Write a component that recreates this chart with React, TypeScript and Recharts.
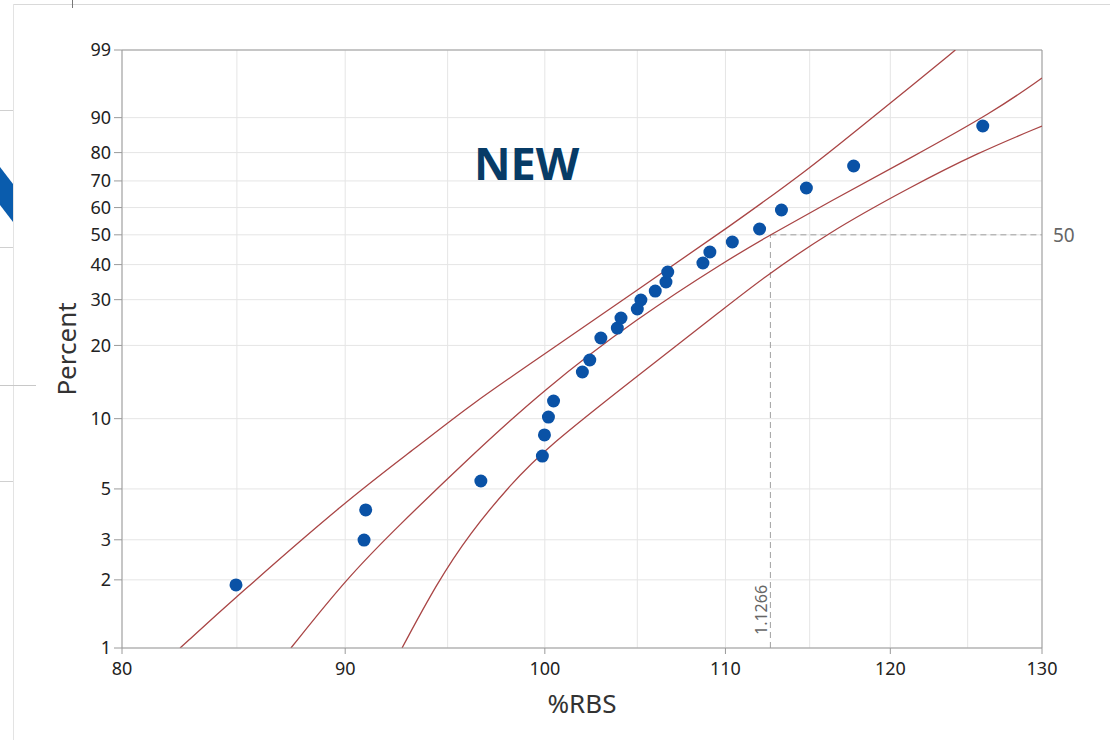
import React from "react";
import {
  ComposedChart,
  Scatter,
  Line,
  XAxis,
  YAxis,
  CartesianGrid,
  ReferenceLine,
  ReferenceDot,
} from "recharts";

// Weibull probability scale: ln(-ln(1 - p))
const weib = (p: number) => Math.log(-Math.log(1 - p / 100));

const percentTicks = [1, 2, 3, 5, 10, 20, 30, 40, 50, 60, 70, 80, 90, 99];
const rbsTicks = [80, 90, 100, 110, 120, 130];
const rbsMinorGrid = [85, 95, 105, 115, 125];

// observations
const rbsValues = [
  84.96, 90.9, 90.98, 96.68, 99.87, 99.98, 100.19, 100.46, 102.0, 102.4, 103.0,
  103.9, 104.1, 105.0, 105.2, 106.0, 106.6, 106.7, 108.7, 109.1, 110.4, 112.0,
  113.3, 114.8, 117.7, 126.0,
];
const percentValues = [
  1.9, 2.99, 4.05, 5.41, 6.93, 8.53, 10.16, 11.86, 15.63, 17.49, 21.4, 23.41,
  25.59, 27.68, 29.91, 32.27, 34.78, 37.72, 40.5, 44.08, 47.48, 52.08, 59.09,
  67.36, 75.41, 87.92,
];

// fitted line and confidence bounds
const upperRbs = [82.49, 84.96, 90.09, 93.48, 96.13, 99.91, 105.0, 110.11, 115.04, 118.12, 121.28, 124.19];
const upperPct = [1.0, 1.68, 4.48, 7.58, 11.41, 18.31, 32.55, 52.44, 74.7, 87.66, 95.72, 99.0];

const fitRbs = [87.46, 90.09, 92.5, 96.13, 99.91, 105.0, 110.11, 112.64, 116.08, 121.28, 126.71, 130];
const fitPct = [1.0, 2.04, 3.41, 6.87, 13.18, 25.59, 41.46, 50.0, 61.72, 78.19, 91.28, 96.84];

const lowerRbs = [92.74, 94.47, 96.13, 98.18, 100.12, 105.0, 110.11, 112.05, 116.08, 121.28, 125.64, 130];
const lowerPct = [1.0, 1.94, 3.21, 5.2, 7.58, 15.05, 28.41, 35.35, 50.64, 67.73, 79.86, 87.92];

const medianRbs = 112.64;
const medianLabel = "1.1266";

const toPoints = (xs: number[], ps: number[]) =>
  xs.map((x, i) => ({ x, y: weib(ps[i]) }));

const points = toPoints(rbsValues, percentValues);
const upper = toPoints(upperRbs, upperPct);
const fit = toPoints(fitRbs, fitPct);
const lower = toPoints(lowerRbs, lowerPct);

const yTicks = percentTicks.map(weib);
const fmtPct = (v: number) => {
  let best = percentTicks[0];
  let d = Infinity;
  percentTicks.forEach((p) => {
    const dd = Math.abs(weib(p) - v);
    if (dd < d) {
      d = dd;
      best = p;
    }
  });
  return String(best);
};

const FONT = "'Noto Sans', 'Open Sans', sans-serif";
const CURVE = "#a94545";
const GRID = "#e5e5e5";
const AXIS = "#9a9a9a";

const Dot = (props: any) => (
  <circle cx={props.cx} cy={props.cy} r={6.5} fill="#0a52a6" />
);

const YTitle = (props: any) => {
  const vb = props.viewBox || { x: 62, y: 50, width: 60, height: 598 };
  const x = vb.x + 14;
  const y = vb.y + vb.height / 2;
  return (
    <text
      x={x}
      y={y}
      transform={`rotate(-90 ${x} ${y})`}
      textAnchor="middle"
      fill="#333"
      fontSize={26}
      fontFamily={FONT}
    >
      Percent
    </text>
  );
};

const XTitle = (props: any) => {
  const vb = props.viewBox || { x: 122, y: 648, width: 920, height: 60 };
  return (
    <text
      x={vb.x + vb.width / 2}
      y={vb.y + 65}
      textAnchor="middle"
      fill="#333"
      fontSize={26}
      fontFamily={FONT}
    >
      %RBS
    </text>
  );
};

const MedianLabel = (props: any) => {
  const vb = props.viewBox || { x: 770, y: 648 };
  const x = vb.x - 3;
  const y = vb.y - 13;
  return (
    <text
      x={x}
      y={y}
      transform={`rotate(-90 ${x} ${y})`}
      textAnchor="start"
      fill="#666"
      fontSize={16}
      fontFamily={FONT}
    >
      {medianLabel}
    </text>
  );
};

export default function App() {
  return (
    <div
      style={{
        position: "absolute",
        left: 0,
        top: 0,
        width: 1110,
        height: 740,
        background: "#fff",
        overflow: "hidden",
      }}
    >
      {/* slide frame bits */}
      <div style={{ position: "absolute", left: 13, top: 4, right: 0, height: 1, background: "#d9d9d9" }} />
      <div style={{ position: "absolute", left: 13, top: 4, bottom: 0, width: 1, background: "#e3e3e3" }} />
      <div style={{ position: "absolute", left: 72, top: 0, height: 8, width: 1, background: "#777" }} />
      <div style={{ position: "absolute", left: 0, top: 110, height: 1, width: 13, background: "#d0d0d0" }} />
      <div style={{ position: "absolute", left: 0, top: 247, height: 1, width: 13, background: "#d0d0d0" }} />
      <div style={{ position: "absolute", left: 0, top: 385, height: 1, width: 36, background: "#c8c8c8" }} />
      <div style={{ position: "absolute", left: 0, top: 481, height: 1, width: 13, background: "#d0d0d0" }} />
      <svg style={{ position: "absolute", left: 0, top: 0 }} width={14} height={240}>
        <polygon points="0,167 13,184 13,222 0,205" fill="#0a5cad" />
      </svg>

      <ComposedChart
        width={1110}
        height={740}
        margin={{ top: 50, right: 68, bottom: 32, left: 62 }}
        style={{ position: "absolute", left: 0, top: 0 }}
      >
        <CartesianGrid stroke={GRID} />
        {rbsMinorGrid.map((v) => (
          <ReferenceLine key={v} x={v} stroke={GRID} />
        ))}
        <XAxis
          type="number"
          dataKey="x"
          scale="log"
          domain={[80, 130]}
          ticks={rbsTicks}
          allowDataOverflow
          height={60}
          stroke={AXIS}
          tickSize={6}
          tickMargin={8}
          tick={{ fill: "#222", fontSize: 18, fontFamily: FONT }}
          label={XTitle}
        />
        <YAxis
          type="number"
          dataKey="y"
          domain={[weib(1), weib(99)]}
          ticks={yTicks}
          tickFormatter={fmtPct}
          allowDataOverflow
          width={60}
          stroke={AXIS}
          tickSize={8}
          tickMargin={3}
          tick={{ fill: "#222", fontSize: 18, fontFamily: FONT }}
          label={YTitle}
        />
        <ReferenceLine y={weib(99)} stroke={AXIS} />
        <ReferenceLine x={130} stroke={AXIS} />
        <ReferenceLine
          segment={[
            { x: medianRbs, y: weib(50) },
            { x: 130, y: weib(50) },
          ]}
          stroke="#a0a0a0"
          strokeDasharray="6 4"
        />
        <ReferenceLine
          segment={[
            { x: medianRbs, y: weib(1) },
            { x: medianRbs, y: weib(50) },
          ]}
          stroke="#a0a0a0"
          strokeDasharray="6 4"
        />
        <Line data={upper} dataKey="y" type="basis" stroke={CURVE} strokeWidth={1.3} dot={false} isAnimationActive={false} />
        <Line data={fit} dataKey="y" type="basis" stroke={CURVE} strokeWidth={1.3} dot={false} isAnimationActive={false} />
        <Line data={lower} dataKey="y" type="basis" stroke={CURVE} strokeWidth={1.3} dot={false} isAnimationActive={false} />
        <Scatter data={points} dataKey="y" shape={Dot} isAnimationActive={false} />
        <ReferenceDot
          x={130}
          y={weib(50)}
          r={0}
          stroke="none"
          label={{ value: "50", position: "right", offset: 11, fill: "#666", fontSize: 19, fontFamily: FONT }}
        />
        <ReferenceDot x={medianRbs} y={weib(1)} r={0} stroke="none" label={MedianLabel} />
      </ComposedChart>

      <svg style={{ position: "absolute", left: 0, top: 0, pointerEvents: "none" }} width={1110} height={740}>
        <text x={474} y={180} fontSize={45} fontWeight={700} fill="#073b66" fontFamily="'Open Sans', 'Noto Sans', sans-serif">
          NEW
        </text>
      </svg>
    </div>
  );
}
